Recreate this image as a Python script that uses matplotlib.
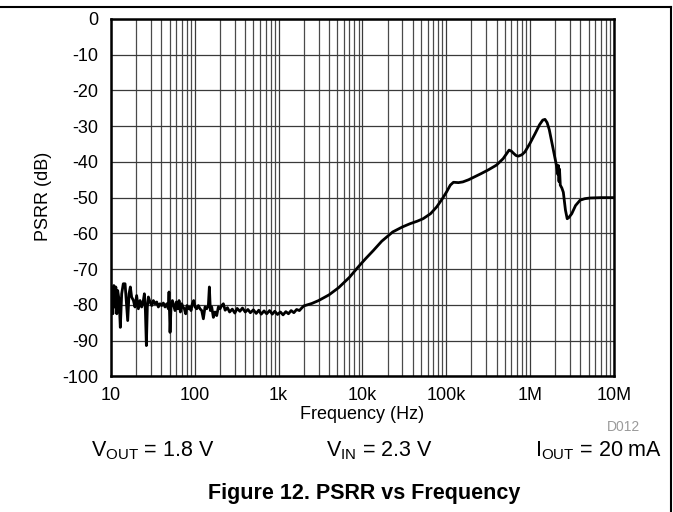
from __future__ import annotations

import matplotlib.pyplot as plt
from matplotlib.lines import Line2D

# low-frequency noisy part (Hz, dB)
noise_freq_hz = [
    10.2, 10.5, 10.8, 11.1, 11.4, 11.7, 12.0, 12.5, 12.9, 13.4, 14.0, 14.7, 15.2, 15.8,
    16.4, 17.0, 17.6, 18.5, 19.3, 20.2, 21.2, 22.2, 23.2, 24.3, 25.0, 25.7, 26.4, 27.1,
    27.9, 29.2, 30.6, 32.0, 33.5, 35.1, 36.7, 38.4, 40.2, 42.1, 44.1, 46.2, 48.3, 49.2,
    50.6, 52.0, 54.0, 56.0, 58.0, 60.2, 62.4, 64.8, 67.2, 69.7, 72.3, 75.0, 77.8, 80.7,
    83.7, 86.8, 90.1, 93.4, 96.9, 100.6, 105.3, 110.2, 115.3, 120.8, 126.4, 132.3, 138.5,
    145.0, 149.1, 153.2, 159.0, 166.4, 174.2, 182.4, 190.9, 199.8, 209.2, 219.0,
    230, 245, 260, 280, 300, 320, 345, 370, 400, 430, 460, 500, 540, 580, 620, 670, 720,
    780, 840, 900, 970, 1050, 1130, 1220, 1310, 1410, 1520, 1640, 1770, 1900,
]
noise_psrr_db = [
    -76.4, -82.5, -74.6, -80.6, -75.0, -82.5, -76.0, -78.8, -86.3, -76.9, -74.1, -74.1, -78.8, -84.4,
    -76.9, -75.0, -77.8, -78.8, -80.6, -77.4, -81.1, -78.8, -80.6, -78.8, -76.9, -81.6, -91.4, -80.6,
    -77.8, -79.2, -80.2, -78.8, -79.7, -79.2, -80.6, -79.7, -80.2, -79.5, -80.6, -79.7, -81.1, -76.4,
    -87.7, -80.6, -78.8, -80.2, -81.6, -79.2, -81.1, -78.8, -82.0, -79.7, -80.6, -81.1, -82.5, -80.2,
    -81.1, -80.6, -81.6, -79.7, -78.8, -80.6, -81.1, -80.2, -81.1, -81.6, -83.9, -80.6, -81.1,
    -80.2, -75.0, -81.6, -80.6, -83.5, -82.0, -83.0, -80.6, -81.1, -80.2, -79.7,
    -81.5, -80.8, -82.0, -81.2, -82.3, -81.0, -81.8, -80.9, -82.0, -81.3, -82.2, -81.4, -82.4,
    -81.5, -82.6, -81.7, -82.5, -81.6, -82.6, -81.8, -82.7, -82.0, -82.8, -81.9, -82.5, -81.6,
    -82.2, -81.3, -81.6, -80.8,
]

# smooth part above 2 kHz
smooth_freq_hz = [
    2000, 2500, 3000, 4000, 5200, 7000, 8900, 11000, 13500, 17000, 23000, 30000, 37000,
    45000, 53000, 65000, 77000, 90000, 101000, 112000, 122000, 140000, 158000, 185000,
    209000, 260000, 320000, 398000, 478000, 530000, 563000, 600000, 630000, 680000,
    725000, 800000, 870000, 1000000, 1150000, 1300000, 1420000, 1510000, 1600000,
    1700000, 1900000, 2050000, 2150000, 2180000, 2220000, 2250000, 2300000, 2400000,
    2500000, 2650000, 2780000, 2900000, 3150000, 3500000, 3970000, 4500000, 5200000,
    7000000, 10000000,
]
smooth_psrr_db = [
    -80.3, -79.6, -78.8, -77.2, -75.2, -72.3, -69.4, -67.0, -64.8, -62.2, -59.6, -58.2, -57.3,
    -56.6, -55.9, -54.5, -52.6, -50.3, -48.4, -46.5, -45.7, -45.8, -45.6, -45.0,
    -44.4, -43.3, -42.2, -40.9, -39.1, -37.6, -36.7, -37.0, -37.5, -38.2,
    -38.4, -38.0, -37.2, -34.8, -32.1, -29.6, -28.3, -28.1, -29.0,
    -31.0, -36.7, -40.5, -43.5, -41.0, -45.5, -42.0, -46.5, -47.3,
    -48.5, -53.5, -55.9, -55.6, -54.5, -52.2, -50.7, -50.3, -50.1,
    -50.0, -50.0,
]

x_ticks = [10, 100, 1e3, 1e4, 1e5, 1e6, 1e7]
x_tick_labels = ["10", "100", "1k", "10k", "100k", "1M", "10M"]
y_ticks = list(range(-100, 1, 10))

plt.rcParams["font.family"] = ["Liberation Sans", "DejaVu Sans"]
plt.rcParams["mathtext.fontset"] = "custom"
plt.rcParams["mathtext.rm"] = "Liberation Sans"
plt.rcParams["axes.unicode_minus"] = False

figure = plt.figure(figsize=(6.73, 5.12), dpi=100)
axis = figure.add_axes([0.165, 0.265, 0.747, 0.698])

axis.semilogx(noise_freq_hz + smooth_freq_hz, noise_psrr_db + smooth_psrr_db,
              color="black", linewidth=2.0, zorder=3)
axis.set_xlim(10, 1e7)
axis.set_ylim(-100, 0)
axis.set_xticks(x_ticks, x_tick_labels)
axis.set_yticks(y_ticks)
axis.grid(True, which="major", color="#3a3a3a", linewidth=0.9)
axis.grid(True, which="minor", axis="x", color="#4a4a4a", linewidth=0.9)
axis.tick_params(which="both", length=0, labelsize=13)
axis.tick_params(axis="x", pad=8)
axis.tick_params(axis="y", pad=9)
for spine in axis.spines.values():
    spine.set_linewidth(1.8)
axis.set_xlabel("Frequency (Hz)", fontsize=13, labelpad=1)

figure.text(43 / 673, 1 - 196 / 512, "PSRR (dB)", rotation=90, fontsize=13,
            ha="center", va="center")
figure.text(640 / 673, 1 - 431 / 512, "D012", fontsize=10, color="#9a9a9a",
            ha="right", va="baseline")
figure.text(91 / 673, 1 - 456 / 512, r"V$_{\mathrm{OUT}}$ = 1.8 V", fontsize=15.5,
            ha="left", va="baseline")
figure.text(326 / 673, 1 - 456 / 512, r"V$_{\mathrm{IN}}$ = 2.3 V", fontsize=15.5,
            ha="left", va="baseline")
figure.text(662 / 673, 1 - 456 / 512, r"I$_{\mathrm{OUT}}$ = 20 mA", fontsize=15.5,
            ha="right", va="baseline")
figure.text(364 / 673, 1 - 493 / 512, "Figure 12. PSRR vs Frequency", fontsize=15.5,
            fontweight="bold", ha="center", va="center")

# frame lines around the figure block
figure.add_artist(Line2D([0, 670.5 / 673], [1 - 7 / 512, 1 - 7 / 512],
                         transform=figure.transFigure, color="black", linewidth=1.5))
figure.add_artist(Line2D([670.5 / 673, 670.5 / 673], [1 - 7 / 512, 0],
                         transform=figure.transFigure, color="black", linewidth=1.5))

figure.savefig("out.png", dpi=100)
plt.close(figure)
